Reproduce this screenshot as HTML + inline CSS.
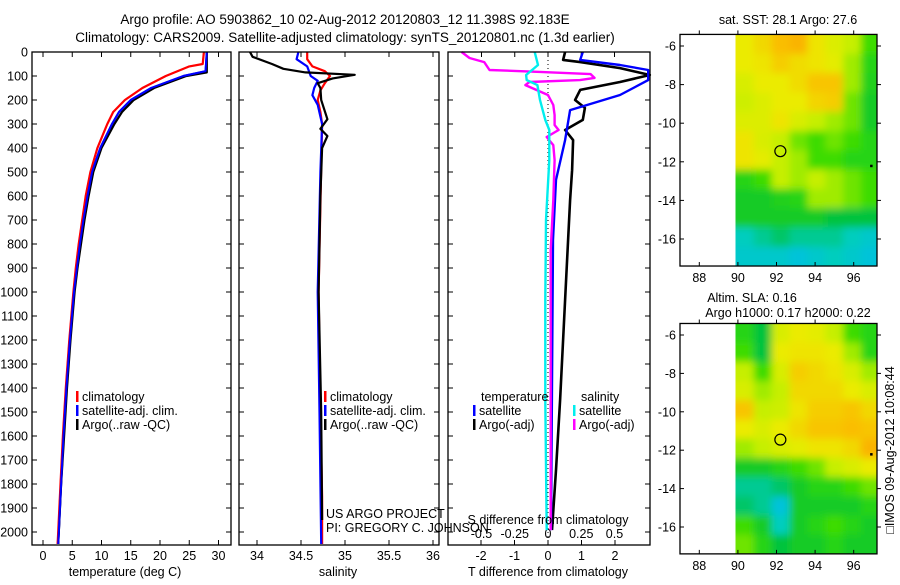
<!DOCTYPE html>
<html><head><meta charset="utf-8"><style>
body{margin:0;background:#fff;}
svg{font-family:"Liberation Sans",sans-serif;font-size:12.5px;}
</style></head><body>
<svg id="c" width="900" height="580" xmlns="http://www.w3.org/2000/svg">
<defs>
<filter id="blur" x="-10%" y="-10%" width="120%" height="120%"><feGaussianBlur stdDeviation="4"/></filter>
<clipPath id="clipTop"><rect x="735.5" y="34.4" width="141.5" height="231.6"/></clipPath>
<clipPath id="clipBot"><rect x="735.5" y="323.5" width="141.5" height="230.4"/></clipPath>
</defs>
<rect width="900" height="580" fill="#fff"/>
<text x="345" y="24" text-anchor="middle" font-size="13.5">Argo profile: AO 5903862_10 02-Aug-2012 20120803_12 11.398S 92.183E</text>
<text x="345" y="42" text-anchor="middle" font-size="13.5">Climatology: CARS2009. Satellite-adjusted climatology: synTS_20120801.nc (1.3d earlier)</text>
<g id="g"></g>
</svg>
<script>
// ---------- data ----------
const tClimD=[0,50,60,100,150,200,250,300,400,500,600,700,800,900,1000,1200,1400,1600,1800,2000,2050];
const tClimV=[27.5,27.3,25,21,17,14,12,11,9.3,8.1,7.3,6.7,6.1,5.6,5.2,4.5,3.9,3.4,3.0,2.6,2.5];
const tSatD=[0,80,100,150,200,250,300,400,500,600,700,800,900,1000,1200,1400,1600,1800,2000,2050];
const tSatV=[28,27.8,24,18.5,15,13,11.8,9.8,8.4,7.6,6.9,6.3,5.8,5.3,4.6,4.0,3.5,3.1,2.7,2.6];
const tArgoD=[0,85,100,150,200,250,300,400,500,600,700,800,900,1000,1200,1400,1600,1800,2000,2050];
const tArgoV=[28,28,24.5,19,15.5,13.5,12.2,10,8.6,7.8,7.1,6.5,5.9,5.4,4.7,4.1,3.6,3.1,2.7,2.6];
const sClimD=[0,30,60,80,100,130,160,200,250,300,1000,1500,1850,1950,2050];
const sClimV=[34.57,34.57,34.63,34.77,34.83,34.77,34.72,34.69,34.72,34.74,34.70,34.72,34.74,34.74,34.74];
const sSatD=[0,30,60,100,120,150,180,220,300,500,1000,1500,2050];
const sSatV=[34.47,34.45,34.57,34.61,34.69,34.65,34.63,34.69,34.74,34.72,34.69,34.71,34.73];
const sArgoD=[0,20,50,70,85,95,110,130,150,200,280,320,350,400,600,1000,1500,1950];
const sArgoV=[33.92,33.95,34.17,34.30,34.55,35.11,34.86,34.69,34.72,34.73,34.80,34.72,34.80,34.74,34.72,34.70,34.73,34.74];
const dTSatD=[0,33,54,75,117,179,242,367,533,783,1992];
const dTSatV=[1.04,0.96,2.15,2.99,2.99,2.15,0.66,0.51,0.24,0.15,0.09];
const dTArgoD=[0,33,42,67,96,125,158,200,233,283,325,367,492,617,783,1033,1450,1742,1992];
const dTArgoV=[0.51,0.45,0.96,2.15,3.04,2.15,0.96,0.81,1.1,1.04,0.51,0.75,0.72,0.66,0.6,0.51,0.36,0.24,0.12];
const dSSatD=[0,54,96,117,138,200,283,325,450,700,1033,1450,1992];
const dSSatV=[-0.1,-0.075,-0.165,-0.16,-0.08,-0.06,-0.02,0.01,0.01,-0.015,-0.02,-0.02,-0.01];
const dSArgoD=[0,25,42,75,83,92,108,117,125,138,179,221,263,304,325,354,388,450,617,825,1033,1500,1992];
const dSArgoV=[-0.65,-0.59,-0.48,-0.44,-0.06,0.32,0.35,0.24,-0.14,-0.17,0,0.04,0.05,0.05,0.08,-0.01,0.04,0.05,0.04,0.02,0.02,0.02,0.02];
const depthTicks=[0,100,200,300,400,500,600,700,800,900,1000,1100,1200,1300,1400,1500,1600,1700,1800,1900,2000];
const tTicks=[0,5,10,15,20,25,30];
const sTicks=[34,34.5,35,35.5,36];
const dTTicks=[-2,-1,0,1,2];
const dSTicks=[-0.5,-0.25,0,0.25,0.5];
const dSTickLabels=["-0.5","-0.25","0","0.25","0.5"];
const lonTicks=[88,90,92,94,96];
const latTicks=[-6,-8,-10,-12,-14,-16];
const sstGrid=[
[.7,.75,.82,.85,.72,.66,.6,.45],
[.7,.72,.78,.74,.72,.68,.55,.4],
[.65,.7,.7,.74,.8,.8,.55,.38],
[.62,.66,.7,.7,.76,.78,.5,.35],
[.66,.66,.72,.65,.6,.55,.5,.35],
[.72,.65,.6,.5,.45,.5,.45,.4],
[.72,.68,.6,.55,.45,.45,.4,.4],
[.4,.45,.6,.55,.6,.55,.5,.45],
[.35,.35,.38,.4,.55,.55,.5,.45],
[.35,.35,.35,.35,.35,.3,.3,.3],
[.15,.2,.25,.2,.2,.2,.15,.1],
[.1,.1,.1,.05,.1,.15,.1,.05]];
const slaGrid=[
[.4,.3,.65,.7,.68,.6,.45,.4],
[.45,.3,.7,.72,.72,.7,.55,.4],
[.6,.45,.65,.78,.75,.72,.65,.55],
[.65,.55,.6,.75,.75,.75,.7,.65],
[.8,.6,.62,.72,.78,.78,.8,.75],
[.7,.65,.7,.75,.8,.8,.82,.8],
[.55,.6,.65,.68,.72,.72,.75,.85],
[.35,.35,.4,.45,.5,.6,.65,.7],
[.2,.2,.25,.35,.4,.4,.45,.5],
[.25,.2,.05,.35,.35,.35,.35,.4],
[.45,.35,.15,.35,.4,.45,.4,.35],
[.5,.4,.3,.35,.35,.4,.35,.35]];
const argoPos=[92.2,-11.45];

// ---------- drawing ----------
const NS="http://www.w3.org/2000/svg";
const G=document.getElementById('g');
function mk(tag,a,parent){const e=document.createElementNS(NS,tag);for(const k in a)e.setAttribute(k,a[k]);(parent||G).appendChild(e);return e;}
function txt(x,y,s,anchor,name){const e=mk('text',{x:x,y:y,'text-anchor':anchor||'middle'});e.textContent=s;

return e;}
const Y=d=>52+d*0.24;
const panels=[
 {x0:32,x1:231,fx:v=>43+v*5.85},
 {x0:239,x1:439,fx:v=>345+(v-35)*88},
 {x0:448,x1:650,fx:v=>548+v*33.5}];
const fxS=v=>548+v*133;
function frame(p,name){const r=mk('rect',{x:p.x0,y:52,width:p.x1-p.x0,height:493,fill:'none',stroke:'#000','stroke-width':1.3});

}
function line(D,V,fx,col,name,w){let s='';D.forEach((d,i)=>{s+=(i?'L':'M')+fx(V[i]).toFixed(1)+','+Y(d).toFixed(1);});
const p=mk('path',{d:s,fill:'none',stroke:col,'stroke-width':w||2.2,'stroke-linejoin':'round'});

}
depthTicks.forEach(d=>{txt(28,Y(d)+4.5,String(d),'end','depth-tick-label');
 panels.forEach(p=>{mk('line',{x1:p.x0,y1:Y(d),x2:p.x0+5,y2:Y(d),stroke:'#000'});mk('line',{x1:p.x1,y1:Y(d),x2:p.x1-5,y2:Y(d),stroke:'#000'});});});
tTicks.forEach(v=>{const x=panels[0].fx(v);txt(x,560,String(v),'middle','temperature-tick-label');mk('line',{x1:x,y1:545,x2:x,y2:540,stroke:'#000'});mk('line',{x1:x,y1:52,x2:x,y2:57,stroke:'#000'});});
sTicks.forEach(v=>{const x=panels[1].fx(v);txt(x,560,String(v),'middle','salinity-tick-label');mk('line',{x1:x,y1:545,x2:x,y2:540,stroke:'#000'});mk('line',{x1:x,y1:52,x2:x,y2:57,stroke:'#000'});});
dTTicks.forEach(v=>{const x=panels[2].fx(v);txt(x,560,String(v),'middle','t-diff-tick-label');mk('line',{x1:x,y1:545,x2:x,y2:540,stroke:'#000'});});
dSTicks.forEach((v,i)=>{const x=fxS(v);txt(x,538,dSTickLabels[i],'middle','s-diff-tick-label');mk('line',{x1:x,y1:52,x2:x,y2:57,stroke:'#000'});});
mk('line',{x1:548,y1:52,x2:548,y2:545,stroke:'#000','stroke-dasharray':'1,3'});
line(tClimD,tClimV,panels[0].fx,'#f00','temp-climatology-line');
line(tSatD,tSatV,panels[0].fx,'#00f','temp-satellite-line');
line(tArgoD,tArgoV,panels[0].fx,'#000','temp-argo-line');
line(tClimD,tClimV,panels[0].fx,'#f00','temp-climatology-line-top',1.6);
line(tSatD,tSatV,panels[0].fx,'#00f','temp-satellite-line-top',2);
line(sClimD,sClimV,panels[1].fx,'#f00','sal-climatology-line');
line(sSatD,sSatV,panels[1].fx,'#00f','sal-satellite-line');
line(sArgoD,sArgoV,panels[1].fx,'#000','sal-argo-line');
line(dTArgoD,dTArgoV,panels[2].fx,'#000','t-diff-argo-line',2.6);
line(dTSatD,dTSatV,panels[2].fx,'#00f','t-diff-satellite-line',2.4);
line(dSArgoD,dSArgoV,fxS,'#f0f','s-diff-argo-line',2.4);
line(dSSatD,dSSatV,fxS,'#0ee','s-diff-satellite-line',2.4);
frame(panels[0],'temperature-panel');frame(panels[1],'salinity-panel');frame(panels[2],'difference-panel');
function leg(x,y,col,s,name){mk('rect',{x:x,y:y-10,width:2.5,height:11,fill:col});txt(x+6,y,s,'start',name);}
[76,324].forEach(x=>{leg(x,401,'#f00','climatology','legend-climatology');leg(x,415,'#00f','satellite-adj. clim.','legend-satellite-adj');leg(x,429,'#000','Argo(..raw -QC)','legend-argo');});
txt(481,401,'temperature','start','legend-temperature-header');
leg(473,415,'#00f','satellite','legend-t-satellite');leg(473,429,'#000','Argo(-adj)','legend-t-argo');
txt(581,401,'salinity','start','legend-salinity-header');
leg(573,415,'#0ee','satellite','legend-s-satellite');leg(573,429,'#f0f','Argo(-adj)','legend-s-argo');
txt(326,518,'US ARGO PROJECT','start','credit-project');
txt(326,532,'PI: GREGORY C. JOHNSON','start','credit-pi');
txt(548,524,'S difference from climatology','middle','s-diff-axis-title');
txt(125,576,'temperature (deg C)','middle','temperature-axis-title');
txt(338,576,'salinity','middle','salinity-axis-title');
txt(548,576,'T difference from climatology','middle','t-diff-axis-title');
const stops=[[0,[0,190,230]],[0.15,[0,205,190]],[0.3,[0,195,60]],[0.45,[60,220,0]],[0.58,[190,240,0]],[0.7,[235,235,0]],[0.82,[250,190,0]],[1,[250,130,0]]];
function cmap(v){for(let i=1;i<stops.length;i++){if(v<=stops[i][0]){const a=stops[i-1],b=stops[i],t=(v-a[0])/(b[0]-a[0]);return 'rgb('+a[1].map((c,k)=>Math.round(c+(b[1][k]-c)*t)).join(',')+')';}}return 'rgb(250,130,0)';}
function map(grid,top,scaleY,name,clip){
 const X=lon=>680+(lon-87)*19.3, YY=lat=>top+(-6-lat)*scaleY;
 const y0=YY(-5.4),y1=YY(-17.4);
 const rows=grid.length,cols=grid[0].length, lonA=89.9,lonB=97.3;
 const cg=mk('g',{'clip-path':'url(#'+clip+')'});
 const bg=mk('g',{filter:'url(#blur)'},cg);
 const cw=19.3*(lonB-lonA)/cols, ch=scaleY*12/rows;
 grid.forEach((row,r)=>row.forEach((v,c)=>{
  const la=-5.4-r*(12/rows), lo=lonA+c*((lonB-lonA)/cols);
  let x=X(lo),y=YY(la),w=cw+0.6,h=ch+0.6;
  if(c===0){x-=12;w+=12;} if(c===cols-1){w+=12;}
  if(r===0){y-=12;h+=12;} if(r===rows-1){h+=12;}
  const rc=mk('rect',{x:x.toFixed(1),y:y.toFixed(1),width:w.toFixed(1),height:h.toFixed(1),fill:cmap(v)},bg);
  
  
 }));
 const fr=mk('rect',{x:680,y:y0,width:197,height:y1-y0,fill:'none',stroke:'#000','stroke-width':1.3});
 
 
 lonTicks.forEach(l=>{const x=X(l);txt(x,y1+16,String(l),'middle',name+'-lon-label');mk('line',{x1:x,y1:y1,x2:x,y2:y1-4,stroke:'#000'});mk('line',{x1:x,y1:y0,x2:x,y2:y0-4,stroke:'#000'});});
 latTicks.forEach(l=>{const y=YY(l);txt(676,y+4.5,String(l),'end',name+'-lat-label');mk('line',{x1:877,y1:y,x2:881,y2:y,stroke:'#000'});mk('line',{x1:680,y1:y,x2:684,y2:y,stroke:'#000'});});
 const ci=mk('circle',{cx:X(argoPos[0]),cy:YY(argoPos[1]),r:5.5,fill:'none',stroke:'#000','stroke-width':1.2});
 
 
 mk('rect',{x:X(96.85),y:YY(-12.15),width:2.5,height:2.5,fill:'#000'});
}
map(sstGrid,46,19.3,'sst-map','clipTop');
map(slaGrid,335,19.2,'sla-map','clipBot');
txt(788,24,'sat. SST: 28.1 Argo: 27.6','middle','sst-map-title');
txt(752,302,'Altim. SLA: 0.16','middle','sla-map-title');
txt(788,317,'Argo h1000: 0.17 h2000: 0.22','middle','sla-map-subtitle');
const v=txt(0,0,'\u25A1IMOS 09-Aug-2012 10:08:44','middle','imos-timestamp');
v.setAttribute('transform','translate(894,450) rotate(-90)');
</script>
</body></html>
